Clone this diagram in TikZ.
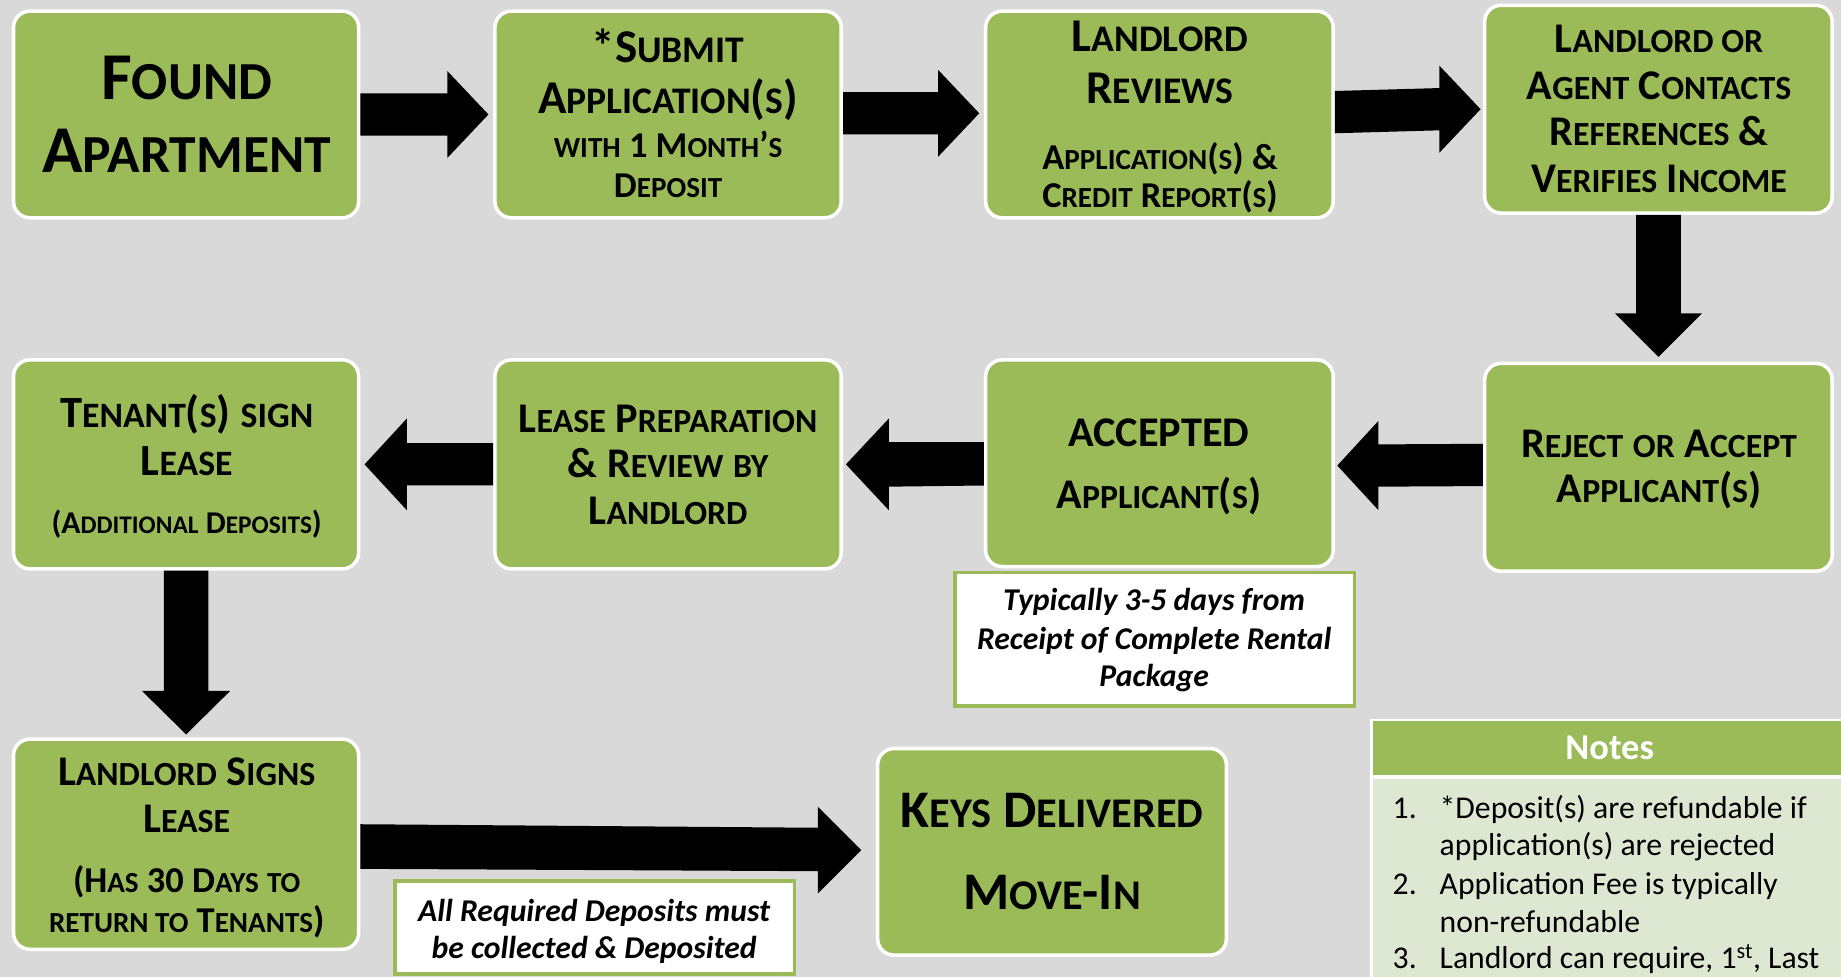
\documentclass[tikz,border=0pt]{standalone}
\usepackage{fontspec}
\usetikzlibrary{calc}
\setmainfont{Carlito}
\definecolor{grn}{HTML}{9BBB59}
\definecolor{bg}{HTML}{D9D9D9}
\definecolor{lgrn}{HTML}{DEE7D1}
\makeatletter
\newcommand\sm[1]{{\fontsize{\fpeval{0.8*\f@size}}{\f@baselineskip}\selectfont #1}}
\makeatother
\newcommand\fs[1]{\fontsize{#1}{#1}\selectfont}
\begin{document}
\begin{tikzpicture}[x=1pt,y=-1pt,
  procbox/.style={draw=white, line width=3pt, fill=grn, rounded corners=14pt, inner sep=0pt},
  notebox/.style={draw=grn, line width=3pt, fill=white, inner sep=0pt},
  txt/.style={anchor=base, inner sep=0pt, font=\bfseries},
  ntxt/.style={anchor=base, inner sep=0pt, font=\bfseries\itshape\fs{27}},
  btxt/.style={anchor=base west, inner sep=0pt, font=\fs{27}},
  arr/.style={fill=black}]
\fill[bg] (0,0) rectangle (1568,832);
\useasboundingbox (0,0) rectangle (1568,832);

% process boxes
\node[procbox, minimum width=294pt, minimum height=176pt] (b1) at (158.5,97.5) {};
\node[procbox, minimum width=295pt, minimum height=176pt] (b2) at (569,97.5) {};
\node[procbox, minimum width=296pt, minimum height=176pt] (b3) at (987.5,97.5) {};
\node[procbox, minimum width=296pt, minimum height=177pt] (b4) at (1412.5,93) {};
\node[procbox, minimum width=294pt, minimum height=178pt] (b5) at (158.5,395.5) {};
\node[procbox, minimum width=295pt, minimum height=178pt] (b6) at (569,395.5) {};
\node[procbox, minimum width=296pt, minimum height=176pt] (b7) at (987.5,394.5) {};
\node[procbox, minimum width=296pt, minimum height=177pt] (b8) at (1412.5,398) {};
\node[procbox, minimum width=294pt, minimum height=179pt] (b9) at (158.5,719) {};
\node[procbox, minimum width=297pt, minimum height=176pt] (b10) at (896,725.5) {};

% note boxes
\node[notebox, minimum width=340pt, minimum height=114pt] (n1) at (983.5,544.5) {};
\node[notebox, minimum width=340pt, minimum height=79pt] (n2) at (506.5,790) {};

% notes table
\fill[white] (1167,612) rectangle (1568,832);
\node[fill=grn, inner sep=0pt, anchor=north west, minimum width=399pt, minimum height=46pt] (nh) at (1169,614) {};
\node[fill=lgrn, inner sep=0pt, anchor=north west, minimum width=399pt, minimum height=170pt] (nb) at (1169,663) {};

% arrows
\fill[arr] ($(b1.east)+(0,-18)$) -- ($(b2.west)+(-39,-18)$) -- ($(b2.west)+(-39,-37)$) -- ($(b2.west)+(-4,0)$) -- ($(b2.west)+(-39,37)$) -- ($(b2.west)+(-39,18)$) -- ($(b1.east)+(0,18)$) -- cycle;
\fill[arr] ($(b2.east)+(0,-19)$) -- ($(b3.west)+(-39,-19)$) -- ($(b3.west)+(-39,-38)$) -- ($(b3.west)+(-4,-1)$) -- ($(b3.west)+(-39,36)$) -- ($(b3.west)+(-39,17)$) -- ($(b2.east)+(0,17)$) -- cycle;
\fill[arr] ($(b3.east)+(0,-20)$) -- ($(b4.west)+(-37,-18)$) -- ($(b4.west)+(-37,-37)$) -- ($(b4.west)+(-2,0)$) -- ($(b4.west)+(-37,37)$) -- ($(b4.west)+(-37,18)$) -- ($(b3.east)+(0,16)$) -- cycle;
\fill[arr] ($(b4.south)+(-19,0)$) -- ($(b8.north)+(-19,-41)$) -- ($(b8.north)+(-37,-41)$) -- ($(b8.north)+(0,-4)$) -- ($(b8.north)+(37,-41)$) -- ($(b8.north)+(19,-41)$) -- ($(b4.south)+(19,0)$) -- cycle;
\fill[arr] ($(b8.west)+(0,-20)$) -- ($(b7.east)+(37,-16)$) -- ($(b7.east)+(37,-36)$) -- ($(b7.east)+(2,2)$) -- ($(b7.east)+(37,40)$) -- ($(b7.east)+(37,20)$) -- ($(b8.west)+(0,16)$) -- cycle;
\fill[arr] ($(b7.west)+(0,-18)$) -- ($(b6.east)+(39,-19)$) -- ($(b6.east)+(39,-39)$) -- ($(b6.east)+(2.5,0)$) -- ($(b6.east)+(39,39)$) -- ($(b6.east)+(39,19)$) -- ($(b7.west)+(0,19)$) -- cycle;
\fill[arr] ($(b6.west)+(0,-18)$) -- ($(b5.east)+(39.5,-18)$) -- ($(b5.east)+(39.5,-39)$) -- ($(b5.east)+(3.5,0)$) -- ($(b5.east)+(39.5,39)$) -- ($(b5.east)+(39.5,18)$) -- ($(b6.west)+(0,18)$) -- cycle;
\fill[arr] ($(b5.south)+(-19,0)$) -- ($(b9.north)+(-19,-39.5)$) -- ($(b9.north)+(-37.5,-39.5)$) -- ($(b9.north)+(0,-2.5)$) -- ($(b9.north)+(37.5,-39.5)$) -- ($(b9.north)+(19,-39.5)$) -- ($(b5.south)+(19,0)$) -- cycle;
\fill[arr] ($(b9.east)+(0,-17)$) -- ($(b10.west)+(-49.5,-20.5)$) -- ($(b10.west)+(-49.5,-38.5)$) -- ($(b10.west)+(-12.5,-1.5)$) -- ($(b10.west)+(-49.5,35.5)$) -- ($(b10.west)+(-49.5,16.5)$) -- ($(b9.east)+(0,21)$) -- cycle;

% box texts
\node[txt, font=\bfseries\fs{57}] (t1a) at (159,85) {F\sm{OUND}};
\node[txt, font=\bfseries\fs{57}] (t1b) at (159,147) {A\sm{PARTMENT}};

\node[txt, font=\bfseries\fs{40}] (t2a) at (569,53) {*S\sm{UBMIT}};
\node[txt, font=\bfseries\fs{40}] (t2b) at (569,97) {A\sm{PPLICATION}(\sm{S})};
\node[txt, font=\bfseries\fs{31}] (t2c) at (569,134) {\sm{WITH} 1 M\sm{ONTH}'\sm{S}};
\node[txt, font=\bfseries\fs{31}] (t2d) at (569,168) {D\sm{EPOSIT}};

\node[txt, font=\bfseries\fs{40}] (t3a) at (988,44) {L\sm{ANDLORD}};
\node[txt, font=\bfseries\fs{40}] (t3b) at (988,88) {R\sm{EVIEWS}};
\node[txt, font=\bfseries\fs{31}] (t3c) at (988,144) {A\sm{PPLICATION}(\sm{S}) \&};
\node[txt, font=\bfseries\fs{31}] (t3d) at (988,177) {C\sm{REDIT} R\sm{EPORT}(\sm{S})};

\node[txt, font=\bfseries\fs{36}] (t4a) at (1413,45) {L\sm{ANDLORD OR}};
\node[txt, font=\bfseries\fs{36}] (t4b) at (1413,85) {A\sm{GENT} C\sm{ONTACTS}};
\node[txt, font=\bfseries\fs{36}] (t4c) at (1413,124) {R\sm{EFERENCES} \&};
\node[txt, font=\bfseries\fs{36}] (t4d) at (1413,164) {V\sm{ERIFIES} I\sm{NCOME}};

\node[txt, font=\bfseries\fs{38}] (t5a) at (159,364) {T\sm{ENANT}(\sm{S}) \sm{SIGN}};
\node[txt, font=\bfseries\fs{38}] (t5b) at (159,405) {L\sm{EASE}};
\node[txt, font=\bfseries\fs{27}] (t5c) at (159,454) {(A\sm{DDITIONAL} D\sm{EPOSITS})};

\node[txt, font=\bfseries\fs{36}] (t6a) at (569,368) {L\sm{EASE} P\sm{REPARATION}};
\node[txt, font=\bfseries\fs{36}] (t6b) at (569,407) {\& R\sm{EVIEW} \sm{BY}};
\node[txt, font=\bfseries\fs{36}] (t6c) at (569,447) {L\sm{ANDLORD}};

\node[txt, font=\bfseries\fs{36}] (t7a) at (987,380) {ACCEPTED};
\node[txt, font=\bfseries\fs{36}] (t7b) at (987,433) {A\sm{PPLICANT}(\sm{S})};

\node[txt, font=\bfseries\fs{36}] (t8a) at (1413,390) {R\sm{EJECT} \sm{OR} A\sm{CCEPT}};
\node[txt, font=\bfseries\fs{36}] (t8b) at (1413,428) {A\sm{PPLICANT}(\sm{S})};

\node[txt, font=\bfseries\fs{36}] (t9a) at (159,669) {L\sm{ANDLORD} S\sm{IGNS}};
\node[txt, font=\bfseries\fs{36}] (t9b) at (159,709) {L\sm{EASE}};
\node[txt, font=\bfseries\fs{31}] (t9c) at (159,760) {(H\sm{AS} 30 D\sm{AYS} \sm{TO}};
\node[txt, font=\bfseries\fs{31}] (t9d) at (159,794) {\sm{RETURN TO} T\sm{ENANTS})};

\node[txt, font=\bfseries\fs{45}] (t10a) at (896,705) {K\sm{EYS} D\sm{ELIVERED}};
\node[txt, font=\bfseries\fs{45}] (t10b) at (896,775) {M\sm{OVE}-I\sm{N}};

% note texts
\node[ntxt] (m1a) at (983,520) {Typically 3-5 days from};
\node[ntxt] (m1b) at (983,553) {Receipt of Complete Rental};
\node[ntxt] (m1c) at (983,585) {Package};
\node[ntxt] (m2a) at (506,785) {All Required Deposits must};
\node[ntxt] (m2b) at (506,816) {be collected \& Deposited};

% table texts
\node[anchor=base, inner sep=0pt, text=white, font=\bfseries\fs{31}] (nt) at (1371,647) {Notes};
\node[btxt] (k1) at (1186,697) {1.};
\node[btxt] (l1) at (1226,697) {*Deposit(s) are refundable if};
\node[btxt] (l1b) at (1226,729) {application(s) are rejected};
\node[btxt] (k2) at (1186,762) {2.};
\node[btxt] (l2) at (1226,762) {Application Fee is typically};
\node[btxt] (l2b) at (1226,794) {non-refundable};
\node[btxt] (k3) at (1186,825) {3.};
\node[btxt] (l3) at (1226,825) {Landlord can require, 1\textsuperscript{st}, Last};
\end{tikzpicture}
\end{document}
